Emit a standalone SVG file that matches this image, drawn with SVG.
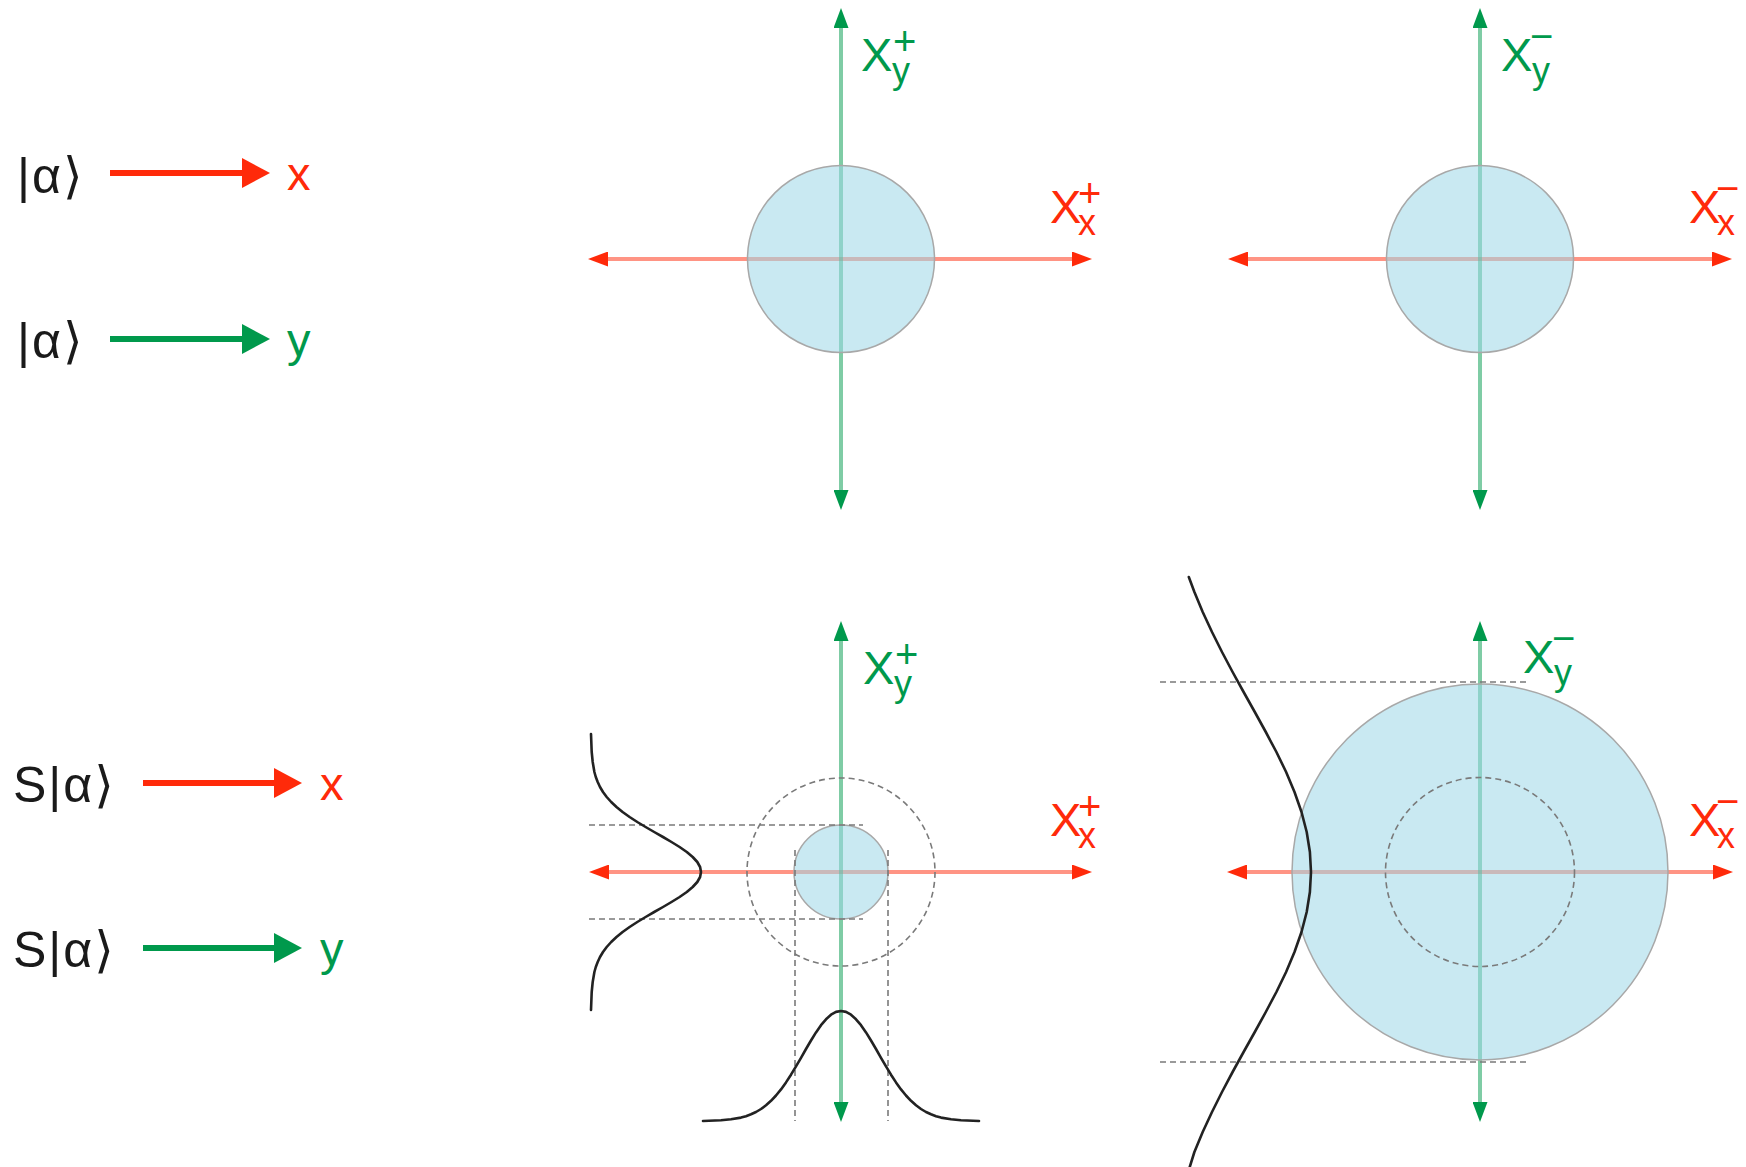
<svg xmlns="http://www.w3.org/2000/svg" width="1746" height="1167" viewBox="0 0 1746 1167">
<style>
text{font-family:"Liberation Sans","DejaVu Sans",Arial,sans-serif;}
.lbl{font-size:50px;fill:#1a1a1a;letter-spacing:2px;}
.red{fill:#ff2a0a;}
.grn{fill:#00994c;}
.big{font-size:47px;}
.sub{font-size:36px;}
.sup{font-size:40px;}
.axr{stroke:#ff2a0a;stroke-opacity:0.5;stroke-width:4;fill:none;marker-start:url(#ahR);marker-end:url(#ahR);}
.axg{stroke:#00994c;stroke-opacity:0.5;stroke-width:4;fill:none;marker-start:url(#ahG);marker-end:url(#ahG);}
.disk{fill:rgb(157,215,231);fill-opacity:0.55;stroke:#a8a8a8;stroke-width:1.5;}
.dash{fill:none;stroke:#7a7a7a;stroke-width:1.6;stroke-dasharray:6 4;}
.gauss{fill:none;stroke:#222;stroke-width:2.6;stroke-linejoin:round;stroke-linecap:round;}
.legr{stroke:#ff2a0a;stroke-width:6;marker-end:url(#lhR);}
.legg{stroke:#00994c;stroke-width:6;marker-end:url(#lhG);}
</style>
<defs>
<marker id="ahR" markerUnits="userSpaceOnUse" viewBox="0 0 20 15" markerWidth="20" markerHeight="15" refX="10" refY="7.5" orient="auto-start-reverse"><path d="M0,0 L20,7.5 L0,15 Z" fill="#ff2a0a"/></marker>
<marker id="ahG" markerUnits="userSpaceOnUse" viewBox="0 0 20 15" markerWidth="20" markerHeight="15" refX="10" refY="7.5" orient="auto-start-reverse"><path d="M0,0 L20,7.5 L0,15 Z" fill="#00994c"/></marker>
<marker id="lhR" markerUnits="userSpaceOnUse" viewBox="0 0 28 30" markerWidth="28" markerHeight="30" refX="14" refY="15" orient="auto"><path d="M0,0 L28,15 L0,30 Z" fill="#ff2a0a"/></marker>
<marker id="lhG" markerUnits="userSpaceOnUse" viewBox="0 0 28 30" markerWidth="28" markerHeight="30" refX="14" refY="15" orient="auto"><path d="M0,0 L28,15 L0,30 Z" fill="#00994c"/></marker>
</defs>
<rect width="1746" height="1167" fill="#ffffff"/>

<g id="legend">
<g id="leg-alpha-x"><text class="lbl" x="17" y="193">|α⟩</text><text class="big red" x="287" y="190">x</text></g>
<g id="leg-alpha-y"><text class="lbl" x="17" y="358">|α⟩</text><text class="big grn" x="287" y="356">y</text></g>
<g id="leg-salpha-x"><text class="lbl" x="13" y="802">S|α⟩</text><text class="big red" x="320" y="800">x</text></g>
<g id="leg-salpha-y"><text class="lbl" x="13" y="967">S|α⟩</text><text class="big grn" x="320" y="965">y</text></g>
</g>

<g id="connectors">
<line class="legr" x1="110" y1="173" x2="256" y2="173"/>
<line class="legg" x1="110" y1="339" x2="256" y2="339"/>
<line class="legr" x1="143" y1="783" x2="288" y2="783"/>
<line class="legg" x1="143" y1="948" x2="288" y2="948"/>
</g>

<g id="panel-tl" transform="translate(841,259)">
<line class="axr" x1="-243" y1="0" x2="241" y2="0"/>
<line class="axg" x1="0" y1="241" x2="0" y2="-241"/>
<circle class="disk" cx="0" cy="0" r="93.5"/>
<text class="grn"><tspan class="big" x="20" y="-188">X</tspan><tspan class="sub" x="51" y="-176">y</tspan><tspan class="sup" x="52" y="-204">+</tspan></text>
<text class="red"><tspan class="big" x="209" y="-36">X</tspan><tspan class="sub" x="237" y="-24">x</tspan><tspan class="sup" x="237" y="-52">+</tspan></text>
</g>

<g id="panel-tr" transform="translate(1480,259)">
<line class="axr" x1="-242" y1="0" x2="242" y2="0"/>
<line class="axg" x1="0" y1="241" x2="0" y2="-241"/>
<circle class="disk" cx="0" cy="0" r="93.5"/>
<text class="grn"><tspan class="big" x="21" y="-188">X</tspan><tspan class="sub" x="52" y="-176">y</tspan><tspan class="sup" x="50" y="-209">−</tspan></text>
<text class="red"><tspan class="big" x="209" y="-36">X</tspan><tspan class="sub" x="237" y="-24">x</tspan><tspan class="sup" x="236" y="-57">−</tspan></text>
</g>

<g id="panel-bl" transform="translate(841,872)">
<line class="axr" x1="-242" y1="0" x2="241" y2="0"/>
<line class="axg" x1="0" y1="240" x2="0" y2="-241"/>
<circle class="disk" cx="0" cy="0" r="47"/>
<circle class="dash" cx="0" cy="0" r="94"/>
<line class="dash" x1="-252" y1="-47" x2="22" y2="-47"/>
<line class="dash" x1="-252" y1="47" x2="22" y2="47"/>
<line class="dash" x1="-46" y1="-22" x2="-46" y2="249"/>
<line class="dash" x1="47" y1="-22" x2="47" y2="249"/>
<polyline class="gauss" points="-250,-138 -249.3,-120 -248.3,-110 -246.6,-100 -245.2,-95 -243.3,-90 -241,-85 -238,-80 -234.3,-75 -229.8,-70 -224.5,-65 -218.4,-60 -211.4,-55 -203.7,-50 -195.4,-45 -186.8,-40 -178,-35 -169.5,-30 -161.4,-25 -154.2,-20 -148.3,-15 -143.7,-10 -140.9,-5 -140,0 -140.9,5 -143.7,10 -148.3,15 -154.2,20 -161.4,25 -169.5,30 -178,35 -186.8,40 -195.4,45 -203.7,50 -211.4,55 -218.4,60 -224.5,65 -229.8,70 -234.3,75 -238,80 -241,85 -243.3,90 -245.2,95 -246.6,100 -248.3,110 -249.3,120 -250,138"/>
<polyline class="gauss" points="-138,249 -120,248.3 -110,247.3 -100,245.6 -95,244.2 -90,242.3 -85,240 -80,237 -75,233.3 -70,228.8 -65,223.5 -60,217.4 -55,210.4 -50,202.7 -45,194.4 -40,185.8 -35,177 -30,168.5 -25,160.4 -20,153.2 -15,147.3 -10,142.7 -5,139.9 0,139 5,139.9 10,142.7 15,147.3 20,153.2 25,160.4 30,168.5 35,177 40,185.8 45,194.4 50,202.7 55,210.4 60,217.4 65,223.5 70,228.8 75,233.3 80,237 85,240 90,242.3 95,244.2 100,245.6 110,247.3 120,248.3 138,249"/>
<text class="grn"><tspan class="big" x="22" y="-188">X</tspan><tspan class="sub" x="53" y="-176">y</tspan><tspan class="sup" x="54" y="-204">+</tspan></text>
<text class="red"><tspan class="big" x="209" y="-36">X</tspan><tspan class="sub" x="237" y="-24">x</tspan><tspan class="sup" x="237" y="-52">+</tspan></text>
</g>

<g id="panel-br" transform="translate(1480,872)">
<line class="axr" x1="-243" y1="0" x2="243" y2="0"/>
<line class="axg" x1="0" y1="240" x2="0" y2="-241"/>
<circle class="disk" cx="0" cy="0" r="188"/>
<circle class="dash" cx="0" cy="0" r="94.5"/>
<line class="dash" x1="-320" y1="-190" x2="50" y2="-190"/>
<line class="dash" x1="-320" y1="190" x2="50" y2="190"/>
<polyline class="gauss" points="-291.2,-295 -285.6,-280 -277.3,-260 -268,-240 -258,-220 -247.4,-200 -236.4,-180 -225.2,-160 -214.2,-140 -203.6,-120 -193.9,-100 -185.5,-80 -178.5,-60 -173.3,-40 -170.1,-20 -169,0 -170.1,20 -173.3,40 -178.5,60 -185.5,80 -193.9,100 -203.6,120 -214.2,140 -225.2,160 -236.4,180 -247.4,200 -258,220 -268,240 -277.3,260 -285.6,280 -291.2,298"/>
<text class="grn"><tspan class="big" x="43" y="-199">X</tspan><tspan class="sub" x="74" y="-187">y</tspan><tspan class="sup" x="72" y="-220">−</tspan></text>
<text class="red"><tspan class="big" x="209" y="-36">X</tspan><tspan class="sub" x="237" y="-24">x</tspan><tspan class="sup" x="236" y="-57">−</tspan></text>
</g>
</svg>
